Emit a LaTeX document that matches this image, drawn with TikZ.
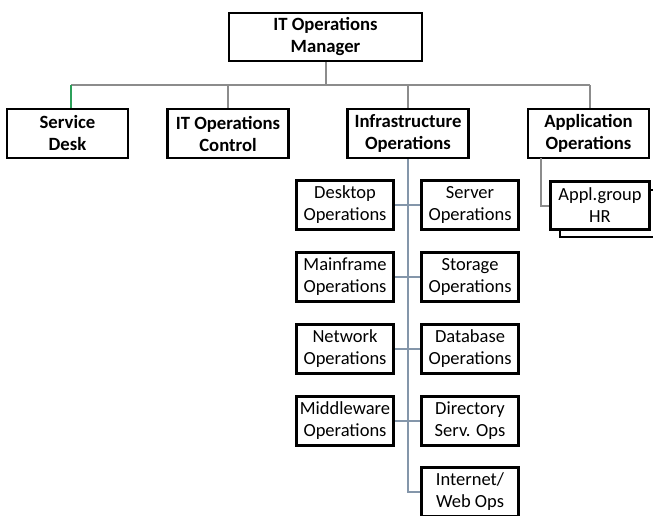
\documentclass[tikz,border=0pt]{standalone}
\usepackage{fontspec}
\setmainfont{Carlito}
\definecolor{linkgray}{HTML}{8C8C8C}
\definecolor{spineblue}{HTML}{8496AA}
\definecolor{desklink}{HTML}{2CA05A}
\tikzset{
  box/.style={draw=black, line width=2.2pt, fill=white, inner sep=0pt,
    align=center, font=\fontsize{18.5}{22}\selectfont},
  headbox/.style={box, minimum width=121pt, minimum height=49pt,
    font=\fontsize{18.7}{22}\selectfont\bfseries},
  unitbox/.style={box, minimum width=96pt, minimum height=48pt},
  link/.style={draw=linkgray, line width=2pt},
  spine/.style={draw=spineblue, line width=2pt}
}
\begin{document}
\begin{tikzpicture}[x=1pt, y=-1pt]
\clip (0,0) rectangle (653,515);
\fill[white] (0,0) rectangle (653,515);

% top of the chart
\node[headbox, minimum width=193pt, minimum height=48pt] (mgr) at (325.5,37) {IT Operations\\Manager};

% second level
\node[headbox] (sd)    at (67.5,133.5)  {Service\\Desk};
\node[headbox] (itoc)  at (228,133.5)   {IT Operations\\Control};
\node[headbox] (infra) at (408,133.5)   {Infrastructure\\Operations};
\node[headbox] (app)   at (588.5,133.5) {Application\\Operations};

\coordinate (bus) at (325.5,85);
\coordinate (busL) at (71,85);
\coordinate (busR) at (590,85);

% manager to second level
\draw[link] (mgr.south) -- (bus);
\draw[link] (busL) -- (busR);
\draw[draw=desklink, line width=2pt] (busL) -- (busL |- sd.north);
\draw[link] (bus -| itoc.north) -- (itoc.north);
\draw[link] (bus -| infra.north) -- (infra.north);
\draw[link] (busR) -- (busR |- app.north);

% infrastructure units
\node[unitbox] (desk)  at (345,205) {Desktop\\Operations};
\node[unitbox] (srv)   at (470,205) {Server\\Operations};
\node[unitbox] (main)  at (345,277) {Mainframe\\Operations};
\node[unitbox] (stor)  at (470,277) {Storage\\Operations};
\node[unitbox] (net)   at (345,349) {Network\\Operations};
\node[unitbox] (db)    at (470,349) {Database\\Operations};
\node[unitbox] (mid)   at (345,421) {Middleware\\Operations};
\node[unitbox] (dir)   at (470,421) {Directory\\Serv. Ops};
\node[unitbox] (web)   at (470,492) {Internet/\\Web Ops};

\coordinate (spineEnd) at (infra.south |- web.west);
\draw[spine] (infra.south) -- (spineEnd) -- (web.west);
\draw[spine] (desk.east) -- (srv.west);
\draw[spine] (main.east) -- (stor.west);
\draw[spine] (net.east) -- (db.west);
\draw[spine] (mid.east) -- (dir.west);
% redraw the unit borders over the spine ends
\foreach \n in {desk,srv,main,stor,net,db,mid,dir,web}
  \draw[line width=2.2pt] (\n.south west) rectangle (\n.north east);

% application groups, shown as a stack
\node[unitbox, minimum width=98pt, minimum height=47pt] (hrback) at (609,213.5) {};
\node[unitbox, minimum width=98pt, minimum height=47pt] (hr) at (600,205.5) {Appl.group\\HR};
\coordinate (appdrop) at (541,158);
\draw[link] (appdrop) |- (hr.west);
\draw[line width=2.2pt] (hr.south west) rectangle (hr.north east);
\end{tikzpicture}
\end{document}
